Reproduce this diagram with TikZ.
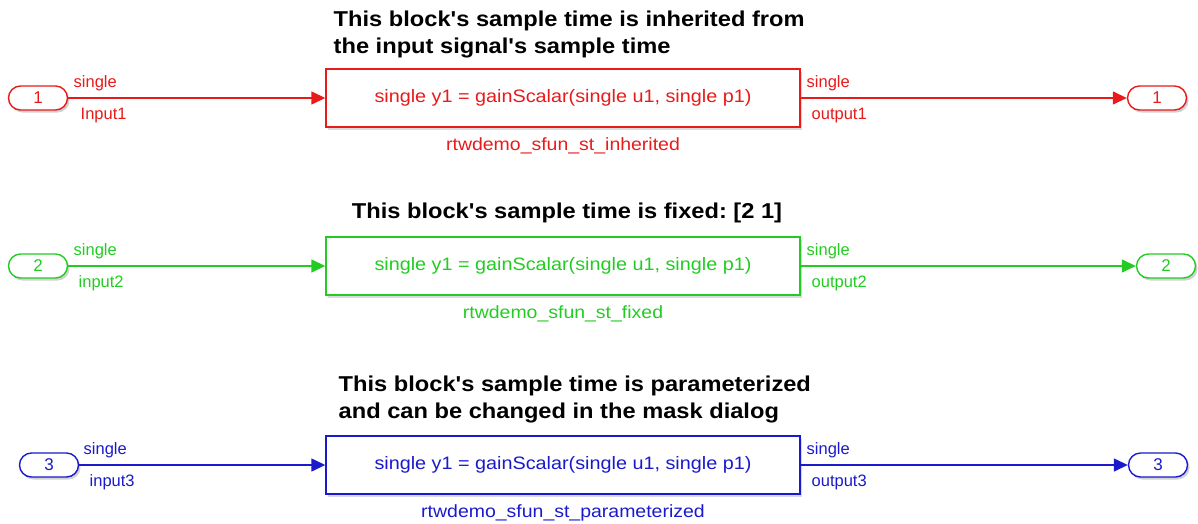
\documentclass[tikz,border=0pt]{standalone}
\usepackage{fontspec}
\setmainfont{Liberation Sans}
\newfontfamily\widefont[FakeStretch=1.1]{Liberation Sans}
\usetikzlibrary{arrows.meta,positioning,shadows}
\definecolor{sigred}{RGB}{232,26,26}
\definecolor{siggreen}{RGB}{34,204,34}
\definecolor{sigblue}{RGB}{26,26,204}
\frenchspacing

\begin{document}
\begin{tikzpicture}[x=1pt,y=-1pt,line width=1.4pt,
  port/.style={draw,fill=white,rounded corners=12pt,minimum width=59pt,minimum height=24pt,inner sep=0pt,
    font=\fontsize{17}{17}\selectfont,drop shadow={shadow xshift=2pt,shadow yshift=-2.5pt,opacity=.3,fill=black!60}},
  blk/.style={draw,fill=white,minimum width=474pt,minimum height=58pt,inner sep=0pt,
    font=\widefont\fontsize{18}{18}\selectfont,drop shadow={shadow xshift=2pt,shadow yshift=-2.5pt,opacity=.25,fill=black!60}},
  lbl/.style={inner sep=0pt,anchor=base west,font=\fontsize{16.5}{16.5}\selectfont},
  bname/.style={inner sep=0pt,font=\widefont\fontsize{17.7}{18}\selectfont},
  ttl/.style={inner sep=0pt,align=left,text=black,font=\widefont\bfseries\fontsize{21.5}{27}\selectfont},
  sig/.style={-{Triangle[length=14pt,width=13pt]}}]
  \useasboundingbox (0,0) rectangle (1198,523);
  % inherited row
  \begin{scope}[sigred]
    \node[port](in1) at (38,98) {1};
    \node[blk](blk1) at (563,98) {single y1 = gainScalar(single u1, single p1)};
    \node[port](out1) at (1157,98) {1};
    \node[bname,below=9pt of blk1](nm1){rtwdemo\_sfun\_st\_inherited};
    \draw[sig](in1)--(blk1);\draw[sig](blk1)--(out1);
    \node[lbl](ti1) at (73,87) {single};
    \node[lbl](ni1) at (80,119) {Input1};
    \node[lbl](to1) at (806,87) {single};
    \node[lbl](no1) at (811,119) {output1};
  \end{scope}
  \node[ttl,anchor=north west](c1) at (333,10) {This block's sample time is inherited from\\the input signal's sample time};
  % fixed row
  \begin{scope}[siggreen]
    \node[port](in2) at (38,266) {2};
    \node[blk](blk2) at (563,266) {single y1 = gainScalar(single u1, single p1)};
    \node[port](out2) at (1166,266) {2};
    \node[bname,below=9pt of blk2](nm2){rtwdemo\_sfun\_st\_fixed};
    \draw[sig](in2)--(blk2);\draw[sig](blk2)--(out2);
    \node[lbl](ti2) at (73,255) {single};
    \node[lbl](ni2) at (78,287) {input2};
    \node[lbl](to2) at (806,255) {single};
    \node[lbl](no2) at (811,287) {output2};
  \end{scope}
  \node[ttl,anchor=base](c2) at (567,218) {This block's sample time is fixed: [2 1]};
  % parameterized row
  \begin{scope}[sigblue]
    \node[port](in3) at (49,465) {3};
    \node[blk](blk3) at (563,465) {single y1 = gainScalar(single u1, single p1)};
    \node[port](out3) at (1158,465) {3};
    \node[bname,below=9pt of blk3](nm3){rtwdemo\_sfun\_st\_parameterized};
    \draw[sig](in3)--(blk3);\draw[sig](blk3)--(out3);
    \node[lbl](ti3) at (83,454) {single};
    \node[lbl](ni3) at (89,486) {input3};
    \node[lbl](to3) at (806,454) {single};
    \node[lbl](no3) at (811,486) {output3};
  \end{scope}
  \node[ttl,anchor=north west](c3) at (338,375) {This block's sample time is parameterized\\and can be changed in the mask dialog};
\end{tikzpicture}
\end{document}
